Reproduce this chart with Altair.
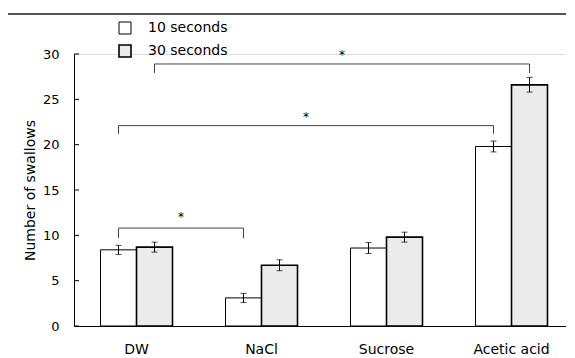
import altair as alt
import pandas as pd

categories = ["DW", "NaCl", "Sucrose", "Acetic acid"]
series_names = ["10 seconds", "30 seconds"]
mean_10s = [8.4, 3.1, 8.6, 19.8]
mean_30s = [8.7, 6.7, 9.8, 26.6]
err_10s = [0.5, 0.5, 0.6, 0.6]
err_30s = [0.55, 0.6, 0.55, 0.8]

# significance brackets
br_from = ["DW", "DW", "DW"]
br_to = ["NaCl", "Acetic acid", "Acetic acid"]
br_series = ["10 seconds", "10 seconds", "30 seconds"]
br_top = [10.8, 22.1, 28.9]
br_end = [9.7, 21.2, 27.9]
br_star = [12.3, 23.4, 30.2]

y_ticks = [0, 5, 10, 15, 20, 25, 30]

PAD_IN = 0.424
PAD_OUT = PAD_IN / 2
FONT = "DejaVu Sans"

rows = []
for i, c in enumerate(categories):
    rows.append({"category": c, "series": series_names[0], "mean": mean_10s[i], "err": err_10s[i]})
    rows.append({"category": c, "series": series_names[1], "mean": mean_30s[i], "err": err_30s[i]})
df = pd.DataFrame(rows)
df["lo"] = df["mean"] - df["err"]
df["hi"] = df["mean"] + df["err"]

off = (1 - PAD_IN) / 4


def bar_center(cat, ser):
    i = categories.index(cat)
    sign = -1 if ser == series_names[0] else 1
    return i + 0.5 + sign * off


brows = []
srows = []
for k in range(len(br_from)):
    a = bar_center(br_from[k], br_series[k])
    b = bar_center(br_to[k], br_series[k])
    pts = [(a, br_end[k]), (a, br_top[k]), (b, br_top[k]), (b, br_end[k])]
    for j, (px, py) in enumerate(pts):
        brows.append({"bid": k, "ord": j, "bx": px, "by": py})
    srows.append({"sx": (a + b) / 2, "sy": br_star[k], "t": "*"})
bdf = pd.DataFrame(brows)
sdf = pd.DataFrame(srows)
tdf = pd.DataFrame({"tick": y_ticks})

yscale = alt.Scale(domain=[0, 30], nice=False)
bandscale = alt.Scale(paddingInner=PAD_IN, paddingOuter=PAD_OUT)
xband = alt.X(
    "category:N",
    sort=categories,
    scale=bandscale,
    axis=alt.Axis(title=None, labelAngle=0, ticks=False, labelPadding=16,
                  labelFontSize=14, domainColor="black", labelColor="black"),
)
xband_plain = alt.X("category:N", sort=categories, scale=bandscale)
xoff = alt.XOffset("series:N", sort=series_names)

bars = alt.Chart(df).mark_bar(stroke="black").encode(
    x=xband,
    xOffset=xoff,
    y=alt.Y("mean:Q", scale=yscale,
            axis=alt.Axis(title="Number of swallows", values=y_ticks, ticks=False,
                          grid=False, labelPadding=15, labelFontSize=13,
                          titleFontSize=14, titleFontWeight="normal", titlePadding=5,
                          domainColor="black", labelColor="black", titleColor="black")),
    fill=alt.Fill("series:N", sort=series_names,
                  scale=alt.Scale(domain=series_names, range=["white", "#ebebeb"]),
                  legend=alt.Legend(title=None, orient="none", legendX=44, legendY=-33,
                                    symbolType="square", symbolSize=144,
                                    symbolStrokeColor="black", symbolStrokeWidth=1,
                                    labelFontSize=14, labelOffset=16, rowPadding=5,
                                    padding=0, labelColor="black")),
    strokeWidth=alt.StrokeWidth("series:N", sort=series_names,
                                scale=alt.Scale(domain=series_names, range=[1, 1.6]),
                                legend=None),
)

err_rule = alt.Chart(df).mark_rule(color="black", strokeWidth=1).encode(
    x=xband_plain, xOffset=xoff, y=alt.Y("lo:Q", scale=yscale), y2="hi:Q"
)
cap_lo = alt.Chart(df).mark_tick(color="black", size=6, thickness=1, orient="horizontal").encode(
    x=xband_plain, xOffset=xoff, y=alt.Y("lo:Q", scale=yscale)
)
cap_hi = alt.Chart(df).mark_tick(color="black", size=6, thickness=1, orient="horizontal").encode(
    x=xband_plain, xOffset=xoff, y=alt.Y("hi:Q", scale=yscale)
)

main = alt.layer(bars, err_rule, cap_lo, cap_hi)

xq = alt.Scale(domain=[0, len(categories)], nice=False, zero=False)
brackets = alt.Chart(bdf).mark_line(color="#444444", strokeWidth=1, clip=False).encode(
    x=alt.X("bx:Q", scale=xq, axis=None),
    y=alt.Y("by:Q", scale=yscale),
    detail="bid:N",
    order="ord:Q",
)
stars = alt.Chart(sdf).mark_text(font=FONT, fontSize=12, color="black", clip=False, dy=3).encode(
    x=alt.X("sx:Q", scale=xq, axis=None),
    y=alt.Y("sy:Q", scale=yscale),
    text="t:N",
)
annot = alt.layer(brackets, stars)

yticks = alt.Chart(tdf).mark_rule(color="black", strokeWidth=1).encode(
    x=alt.value(0), x2=alt.value(5), y=alt.Y("tick:Q", scale=yscale)
)

top_rule = alt.Chart(tdf).mark_rule(color="#555555", strokeWidth=1).encode(
    x=alt.value(-66), x2=alt.value(503), y=alt.value(-40)
)

chart = alt.layer(main, annot, yticks, top_rule).resolve_scale(
    x="independent"
).properties(
    width=500,
    height=272,
    autosize=alt.AutoSizeParams(type="none"),
    padding={"left": 66, "top": 46, "right": -8, "bottom": 32},
).configure_view(stroke=None).configure(font=FONT)

chart.save("out.html", embed_options={"renderer": "svg", "actions": False})
